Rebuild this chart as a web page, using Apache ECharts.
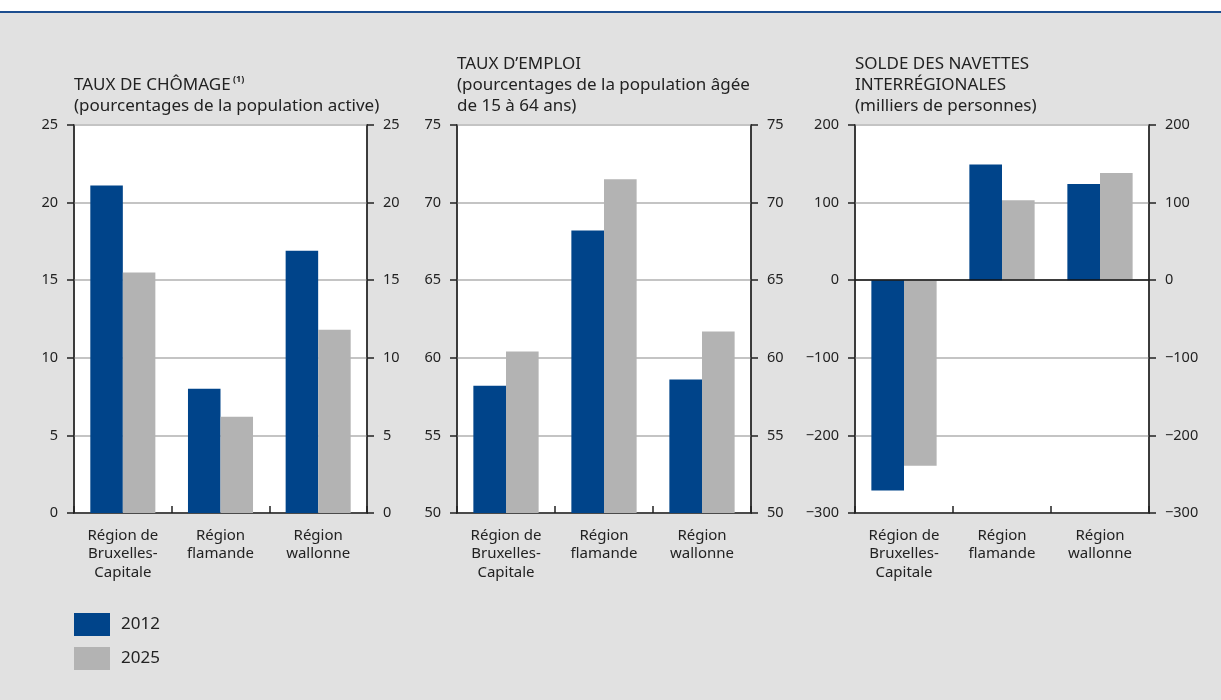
<!DOCTYPE html>
<html>
<head>
<meta charset="utf-8">
<script src="https://cdn.jsdelivr.net/npm/echarts@6/dist/echarts.min.js"></script>
<style>
  html, body { margin: 0; padding: 0; background: #ffffff; }
  #chart { width: 1221px; height: 700px; }
</style>
</head>
<body>
<div id="chart"></div>
<script>
// Regions shown on each panel's category axis
const regions = ['Région de\nBruxelles-\nCapitale', 'Région\nflamande', 'Région\nwallonne'];
const years = ['2012', '2025'];

// Unemployment rate (% of active population)
const chomage2012 = [21.1, 8.0, 16.9];
const chomage2025 = [15.5, 6.2, 11.8];

// Employment rate (% of population aged 15 to 64)
const emploi2012 = [58.2, 68.2, 58.6];
const emploi2025 = [60.4, 71.5, 61.7];

// Net interregional commuting (thousands of people)
const navettes2012 = [-271, 149, 124];
const navettes2025 = [-239, 103, 138];

// Axis ranges per panel: [min, max, interval]
const chomageAxis = [0, 25, 5];
const emploiAxis = [50, 75, 5];
const navettesAxis = [-300, 200, 100];

const BLUE = '#00448a';
const GREY = '#b3b3b3';
const TEXT = '#222222';
const FONT = '"Noto Sans", "Open Sans", sans-serif';

const grids = [
  { left: 74, top: 125, width: 293, height: 388 },
  { left: 457, top: 125, width: 294, height: 388 },
  { left: 855, top: 125, width: 294, height: 388 }
];

function fmt(v) {
  return String(v).replace('-', '\u2212');
}

function yAxes(gridIndex, range) {
  const base = {
    gridIndex,
    type: 'value',
    min: range[0],
    max: range[1],
    interval: range[2],
    axisLine: { show: true, lineStyle: { color: '#333', width: 1.5 } },
    axisTick: { show: true, inside: false, length: 7, lineStyle: { color: '#222', width: 1.5 } },
    axisLabel: { margin: 16, color: TEXT, fontSize: 14.5, fontFamily: FONT, formatter: fmt }
  };
  return [
    Object.assign({}, base, {
      position: 'left',
      splitLine: { show: true, lineStyle: { color: '#c4c4c4', width: 2 } }
    }),
    Object.assign({}, base, {
      position: 'right',
      splitLine: { show: false }
    })
  ];
}

function xAxis(gridIndex) {
  return {
    gridIndex,
    type: 'category',
    data: regions,
    position: 'bottom',
    axisLine: { show: true, onZero: false, lineStyle: { color: '#222', width: 1.5 } },
    axisTick: { show: true, inside: true, length: 7, alignWithLabel: false, lineStyle: { color: '#222', width: 1.5 } },
    axisLabel: { margin: 13, color: TEXT, fontSize: 15, fontFamily: FONT, lineHeight: 18.5, interval: 0 }
  };
}

function bars(name, data, xi, yi, color, extra) {
  return Object.assign({
    name,
    type: 'bar',
    xAxisIndex: xi,
    yAxisIndex: yi,
    data,
    barWidth: '33.3%',
    barGap: '0%',
    itemStyle: { color },
    silent: true
  }, extra || {});
}

const chart = echarts.init(document.getElementById('chart'), null, { renderer: 'canvas' });

const titleStyle = { color: TEXT, fontSize: 17, fontFamily: FONT, fontWeight: 'normal', lineHeight: 21 };

chart.setOption({
  animation: false,
  backgroundColor: '#ffffff',
  graphic: [
    { type: 'rect', z: -10, shape: { x: 0, y: 12, width: 1221, height: 688 }, style: { fill: '#e1e1e1' } },
    { type: 'line', z: -9, shape: { x1: 0, y1: 12, x2: 1221, y2: 12 }, style: { stroke: '#1d4e8f', lineWidth: 2 } }
  ],
  title: [
    {
      left: 74, top: 75, padding: 0,
      text: '{t|TAUX DE CHÔMAGE}{sup| (1)}\n{t|(pourcentages de la population active)}',
      textStyle: {
        rich: {
          t: titleStyle,
          sup: { color: TEXT, fontSize: 9, fontFamily: FONT, lineHeight: 21, verticalAlign: 'top', padding: [0, 0, 6, 0] }
        }
      }
    },
    {
      left: 457, top: 54, padding: 0,
      text: 'TAUX D\u2019EMPLOI\n(pourcentages de la population âgée\nde 15 à 64 ans)',
      textStyle: titleStyle
    },
    {
      left: 855, top: 54, padding: 0,
      text: 'SOLDE DES NAVETTES\nINTERRÉGIONALES\n(milliers de personnes)',
      textStyle: titleStyle
    }
  ],
  legend: {
    orient: 'vertical',
    left: 74,
    top: 613,
    padding: 0,
    itemWidth: 36,
    itemHeight: 23,
    itemGap: 11,
    icon: 'rect',
    data: years,
    textStyle: { color: TEXT, fontSize: 17, fontFamily: FONT, padding: [0, 0, 0, 6] },
    selectedMode: false
  },
  grid: grids.map(g => Object.assign({
    show: true,
    backgroundColor: '#ffffff',
    borderColor: '#222',
    borderWidth: 1.5
  }, g)),
  xAxis: [xAxis(0), xAxis(1), xAxis(2)],
  yAxis: [].concat(yAxes(0, chomageAxis), yAxes(1, emploiAxis), yAxes(2, navettesAxis)),
  series: [
    bars(years[0], chomage2012, 0, 0, BLUE),
    bars(years[1], chomage2025, 0, 0, GREY),
    bars(years[0], emploi2012, 1, 2, BLUE),
    bars(years[1], emploi2025, 1, 2, GREY),
    bars(years[0], navettes2012, 2, 4, BLUE, {
      markLine: {
        silent: true,
        symbol: 'none',
        label: { show: false },
        lineStyle: { color: '#111', width: 1.5, type: 'solid' },
        data: [{ yAxis: 0 }]
      }
    }),
    bars(years[1], navettes2025, 2, 4, GREY)
  ]
});
</script>
</body>
</html>
